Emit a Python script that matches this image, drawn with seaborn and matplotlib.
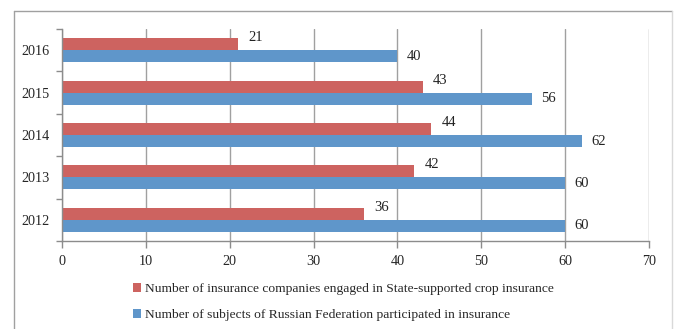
import pandas as pd
import numpy as np
import matplotlib.pyplot as plt
import seaborn as sns
from matplotlib.lines import Line2D

years = ["2016", "2015", "2014", "2013", "2012"]
companies = [21, 43, 44, 42, 36]
subjects = [40, 56, 62, 60, 60]
label_companies = "Number of insurance companies engaged in State-supported crop insurance"
label_subjects = "Number of subjects of Russian Federation participated in insurance"

df = pd.DataFrame({
    "year": years * 2,
    "value": companies + subjects,
    "series": [label_companies] * len(years) + [label_subjects] * len(years),
})

sns.set_style("white")
plt.rcParams["font.family"] = ["Liberation Serif", "DejaVu Serif"]

fig = plt.figure(figsize=(6.76, 3.29), dpi=100)
ax = fig.add_axes([62 / 676, 1 - 241 / 329, (649 - 62) / 676, (241 - 29) / 329])

sns.barplot(data=df, y="year", x="value", hue="series", order=years,
            hue_order=[label_companies, label_subjects],
            palette=["#CD6360", "#5F96CA"], orient="h", width=0.57,
            saturation=1, linewidth=0, edgecolor="none", ax=ax, legend=True)

# value labels: red ones sit a bit above their bar, blue ones beside it
n = len(years)
ax.bar_label(ax.containers[0], padding=7.5, fontsize=10.5, color="#222222")
ax.bar_label(ax.containers[1], padding=7, fontsize=10.5, color="#222222")
for txt in ax.texts[:n]:
    txt.set_va("bottom")
for txt in ax.texts[n:]:
    txt.set_va("center")

ax.set_xlim(0, 70)
ax.set_ylim(4.5, -0.5)
ax.set_xticks(np.arange(0, 71, 10))
ax.set_xlabel("")
ax.set_ylabel("")
ax.grid(axis="x", color="#A0A0A0", linewidth=1)
ax.grid(axis="y", visible=False)
ax.set_axisbelow(True)

ax.set_yticks(np.arange(-0.5, 5, 1), minor=True)
ax.tick_params(axis="y", which="major", length=0, pad=9, labelsize=10.2)
ax.tick_params(axis="y", which="minor", length=4, color="#8C8C8C", width=1, left=True)
ax.tick_params(axis="x", which="major", length=5, color="#8C8C8C", width=1,
               bottom=True, pad=5, labelsize=10.2)
for s in ["top", "right"]:
    ax.spines[s].set_visible(False)
for s in ["left", "bottom"]:
    ax.spines[s].set_color("#8C8C8C")
    ax.spines[s].set_linewidth(1)

leg = ax.legend(loc="upper left", bbox_to_anchor=(133 / 676, 1 - 283 / 329),
                bbox_transform=fig.transFigure, frameon=False, fontsize=9.7,
                handlelength=0.6, handleheight=0.6, handletextpad=0.3,
                labelspacing=1.05, borderaxespad=0, borderpad=0)

# outer chart frame
fc = "#A0A0A0"
fig.add_artist(Line2D([14 / 676, 672 / 676], [1 - 11 / 329, 1 - 11 / 329], color=fc, lw=1))
fig.add_artist(Line2D([14 / 676, 14 / 676], [0, 1 - 11 / 329], color=fc, lw=1))
fig.add_artist(Line2D([672 / 676, 672 / 676], [0, 1 - 11 / 329], color="#D9D9D9", lw=1))

fig.savefig("out.png", dpi=100)
